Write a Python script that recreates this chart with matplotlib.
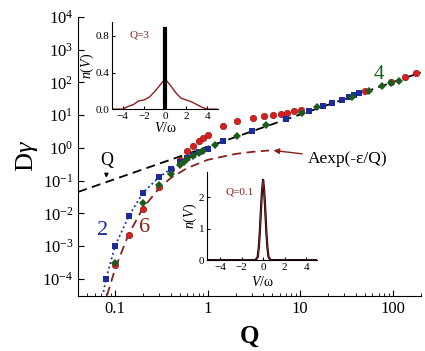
import numpy as np
import matplotlib
matplotlib.use("Agg")
import matplotlib.pyplot as plt

plt.rcParams['font.family'] = ['Liberation Serif', 'DejaVu Serif']
plt.rcParams['mathtext.fontset'] = 'custom'
plt.rcParams['mathtext.rm'] = 'Liberation Serif'
plt.rcParams['mathtext.it'] = 'Liberation Serif:italic'

# series "2" (blue squares)
q2 = [0.08, 0.1, 0.14, 0.2, 0.3, 0.4, 0.5, 0.6, 0.7, 0.8, 1.0, 1.45, 3.0, 7.0,
      12.5, 17.7, 22, 28, 33.5, 38, 43]
d2 = [1e-4, 1e-3, 8e-3, 0.042, 0.13, 0.22, 0.38, 0.5, 0.6, 0.75, 0.9, 1.6, 3.2, 7.7,
      13.5, 19, 23.5, 29, 36, 41, 48]
# series "4" (green diamonds)
q4 = [0.1, 0.2, 0.3, 0.4, 0.5, 0.55, 0.6, 0.7, 0.8, 0.9, 1.19, 2.1, 4.3,
      10.5, 15, 36, 55, 76, 95, 116]
d4 = [3e-4, 0.02, 0.075, 0.16, 0.3, 0.38, 0.45, 0.55, 0.68, 0.8, 1.25, 2.3, 5.0,
      11.7, 18, 36, 55, 80, 96, 110]
# series "6" (red circles)
q6 = [0.1, 0.14, 0.2, 0.3, 0.4, 0.5, 0.6, 0.7, 0.8, 0.9, 1.0, 1.45, 2.05, 3.05,
      4.1, 5.1, 6.2, 7.2, 8.6, 10.3, 50, 95, 134, 177]
d6 = [2.7e-4, 2.2e-3, 0.014, 0.065, 0.23, 0.43, 0.8, 1.15, 1.6, 2.0, 2.4, 4.5, 6.4,
      8.2, 9.6, 10, 10.5, 11.5, 13, 14.5, 55, 100, 150, 195]

# guide lines
q_lin = [0.04, 200]
d_lin = [0.045, 200]
q_exp = [0.082, 0.1, 0.14, 0.2, 0.3, 0.4, 0.6, 1.0, 2.0, 3.0, 4.6]
d_exp = [3.1e-5, 2.0e-4, 2.3e-3, 0.0143, 0.059, 0.12, 0.24, 0.43, 0.65, 0.75, 0.83]
q_dot2 = [0.075, 0.08, 0.1, 0.14, 0.2, 0.3, 0.4]
d_dot2 = [4e-5, 1e-4, 1e-3, 8e-3, 0.042, 0.13, 0.22]

# insets n(V)
v_q3 = [-5, -4.5, -4, -3.5, -3, -2.5, -2, -1.5, -1, -0.5, 0,
        0.5, 1, 1.5, 2, 2.5, 3, 3.5, 4, 4.5, 5]
n_q3 = [0, 0, 0.0, 0.03, 0.05, 0.09, 0.1, 0.13, 0.19, 0.26, 0.33,
        0.26, 0.18, 0.12, 0.1, 0.08, 0.05, 0.02, 0.0, 0, 0]
v_q01 = [-5, -0.7, -0.5, -0.4, -0.3, -0.2, -0.1, 0, 0.1, 0.2, 0.3, 0.4, 0.5, 0.7, 5]
n_q01 = [0, 0, 0.1, 0.4, 0.9, 1.6, 2.2, 2.55, 2.2, 1.6, 0.9, 0.4, 0.1, 0, 0]

blue = '#1c2c9c'
green = '#1d5a1d'
red = '#dd1c1c'
dred = '#8b1e1e'

fig = plt.figure(figsize=(4.25, 3.51), dpi=100)
ax = fig.add_axes([0.184, 0.157, 0.806, 0.795])

ax.plot(q_lin, d_lin, '--', color='black', lw=1.3, dashes=(5, 3))
ax.plot(q_exp, d_exp, '--', color=dred, lw=1.3, dashes=(5, 3))
ax.plot(q_dot2, d_dot2, ':', color=blue, lw=1.3)
ax.plot(q6, d6, 'o', color=red, mec=dred, mew=0.5, ms=4.6)
ax.plot(q2, d2, 's', color=blue, ms=3.8, mew=0)
ax.plot(q4, d4, 'D', color=green, ms=3.8, mew=0)

ax.set_xscale('log')
ax.set_yscale('log')
ax.set_xlim(0.04, 200)
ax.set_ylim(3e-5, 1e4)
ax.set_xticks([0.1, 1, 10, 100])
ax.set_xticklabels(['0.1', '1', '10', '100'])
ax.set_yticks([10.0**k for k in range(-4, 5)])
ax.tick_params(which='both', direction='in', labelsize=12)
ax.tick_params(which='major', length=4)
ax.tick_params(which='minor', length=2)
for s in ['top', 'right']:
    ax.spines[s].set_visible(False)
ax.set_xlabel('Q', fontsize=18, fontweight='bold', labelpad=6)
ax.set_ylabel('D$\\gamma$', fontsize=19, labelpad=2)

ax.text(0.074, 3e-3, '2', color=blue, fontsize=16, ha='center', va='center')
ax.text(0.21, 3.6e-3, '6', color=dred, fontsize=16, ha='center', va='center')
ax.text(70, 170, '4', color=green, fontsize=15, ha='center', va='center')
ax.annotate('Q', xy=(0.08, 0.1), xytext=(0.082, 0.42), fontsize=13,
            ha='center', va='center',
            arrowprops=dict(arrowstyle='-|>', color='black', lw=0.8, mutation_scale=6))
ax.annotate('Aexp(-\u03b5/Q)', xy=(4.8, 0.85), xytext=(12, 0.45), fontsize=12.5,
            ha='left', va='center',
            arrowprops=dict(arrowstyle='-|>', color=dred, lw=1.0, mutation_scale=8))

# inset Q=3
a1 = fig.add_axes([0.264, 0.689, 0.249, 0.248])
a1.plot(v_q3, n_q3, color=dred, lw=1.0)
a1.plot([0, 0], [0, 0.88], color='black', lw=3)
a1.set_xlim(-5, 5)
a1.set_ylim(0, 0.95)
a1.set_xticks([-4, -2, 0, 2, 4])
a1.set_yticks([0.0, 0.4, 0.8])
a1.set_yticklabels(['0.0', '0.4', '0.8'])
a1.text(-3.4, 0.78, 'Q=3', color=dred, fontsize=8)
a1.set_ylabel('$n(V)$', fontsize=10, labelpad=0)
a1.set_xlabel('$V$/\u03c9', fontsize=10, labelpad=0)

# inset Q=0.1
a2 = fig.add_axes([0.487, 0.259, 0.259, 0.251])
a2.plot(v_q01, n_q01, color='black', lw=1.6)
a2.plot(v_q01, n_q01, color=dred, lw=0.8)
a2.set_xlim(-5.2, 5)
a2.set_ylim(0, 2.8)
a2.set_xticks([-4, -2, 0, 2, 4])
a2.set_yticks([0, 1, 2])
a2.text(-3.5, 2.1, 'Q=0.1', color=dred, fontsize=8)
a2.set_ylabel('$n(V)$', fontsize=10, labelpad=0)
a2.set_xlabel('$V$/\u03c9', fontsize=10, labelpad=2)

for a in (a1, a2):
    a.patch.set_alpha(0)
    for s in ['top', 'right']:
        a.spines[s].set_visible(False)
    a.tick_params(direction='in', labelsize=8, length=2.5, pad=2)

fig.savefig('out.png', dpi=100)
